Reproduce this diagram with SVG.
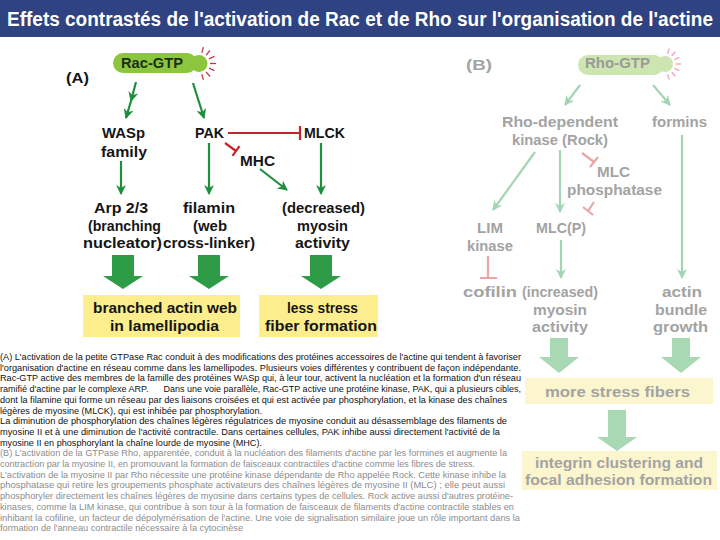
<svg xmlns="http://www.w3.org/2000/svg" width="720" height="540" viewBox="0 0 720 540">
<style>
.t{font-family:"Liberation Sans","Arial",sans-serif;font-weight:bold;text-anchor:middle;font-size:15px}
.ta{fill:#151515}
.tb{fill:#A3A3A3}
.p{font-family:"Liberation Sans","DejaVu Sans",sans-serif;font-size:9.3px}
.pa{fill:#111}
.pb{fill:#8C8C8C}
.arA{stroke:#1F8F3F;stroke-width:2.2;fill:none;marker-end:url(#ahA)}
.arB{stroke:#A3D5B5;stroke-width:2.2;fill:none;marker-end:url(#ahB)}
.inA{stroke:#C4262E;stroke-width:2.2;fill:none}
.inB{stroke:#E9A6A6;stroke-width:2.2;fill:none}
.bigA{fill:#2E9C47}
.bigB{fill:#A8D8B4}
.rayA{stroke:#C0394B;stroke-width:1.3}
.rayB{stroke:#EBA5AE;stroke-width:1.3}
</style>
<defs>
<marker id="ahA" viewBox="0 0 10 10" refX="9" refY="5" markerWidth="10" markerHeight="10" markerUnits="userSpaceOnUse" orient="auto"><path d="M0,0 L10,5 L0,10 L3,5 Z" fill="#1F8F3F"/></marker>
<marker id="ahB" viewBox="0 0 10 10" refX="9" refY="5" markerWidth="10" markerHeight="10" markerUnits="userSpaceOnUse" orient="auto"><path d="M0,0 L10,5 L0,10 L3,5 Z" fill="#A3D5B5"/></marker>
</defs>
<rect width="720" height="540" fill="#fff"/>
<g id="title">
<rect x="0" y="0" width="720" height="37" fill="#2F4281"/>
<text transform="translate(360,26) scale(1,1.15)" font-family="Liberation Sans, sans-serif" font-size="18" font-weight="bold" fill="#fff" text-anchor="middle" textLength="706" lengthAdjust="spacingAndGlyphs">Effets contrastés de l'activation de Rac et de Rho sur l'organisation de l'actine</text>
</g>

<g id="labelA"><text class="t ta" x="77.5" y="83" font-size="16" textLength="23" lengthAdjust="spacingAndGlyphs">(A)</text></g>
<g id="racGTP">
<rect x="113" y="53" width="84" height="20" rx="10" fill="#8CC63F"/>
<circle cx="199" cy="63.5" r="8.5" fill="#8CC63F"/>
<g transform="translate(199,63.5)">
<line class="rayA" x1="11" x2="17" transform="rotate(-75)"/>
<line class="rayA" x1="11" x2="17" transform="rotate(-50)"/>
<line class="rayA" x1="11" x2="17" transform="rotate(-25)"/>
<line class="rayA" x1="11" x2="17"/>
<line class="rayA" x1="11" x2="17" transform="rotate(25)"/>
<line class="rayA" x1="11" x2="17" transform="rotate(50)"/>
<line class="rayA" x1="11" x2="17" transform="rotate(75)"/>
</g>
<text class="t" x="152" y="68" font-size="13" fill="#1d2e1a" textLength="62" lengthAdjust="spacingAndGlyphs">Rac-GTP</text>
</g>
<g id="wasp"><text class="t ta" x="123.5" y="138" textLength="43" lengthAdjust="spacingAndGlyphs">WASp</text><text class="t ta" x="124" y="157" textLength="46" lengthAdjust="spacingAndGlyphs">family</text></g>
<g id="pak"><text class="t ta" x="209.5" y="138" textLength="29" lengthAdjust="spacingAndGlyphs">PAK</text></g>
<g id="mlck"><text class="t ta" x="324.5" y="138" textLength="41" lengthAdjust="spacingAndGlyphs">MLCK</text></g>
<g id="mhc"><text class="t ta" x="257.5" y="166" textLength="35" lengthAdjust="spacingAndGlyphs">MHC</text></g>
<g id="arp"><text class="t ta" x="121" y="213" textLength="54" lengthAdjust="spacingAndGlyphs">Arp 2/3</text><text class="t ta" x="124.5" y="230.5" textLength="73" lengthAdjust="spacingAndGlyphs">(branching</text><text class="t ta" x="122.5" y="248" textLength="79" lengthAdjust="spacingAndGlyphs">nucleator)</text></g>
<g id="filamin"><text class="t ta" x="209" y="213" textLength="52" lengthAdjust="spacingAndGlyphs">filamin</text><text class="t ta" x="210" y="230.5" textLength="34" lengthAdjust="spacingAndGlyphs">(web</text><text class="t ta" x="209" y="248" textLength="92" lengthAdjust="spacingAndGlyphs">cross-linker)</text></g>
<g id="decreased"><text class="t ta" x="323.5" y="213" textLength="83" lengthAdjust="spacingAndGlyphs">(decreased)</text><text class="t ta" x="322.5" y="230.5" textLength="51" lengthAdjust="spacingAndGlyphs">myosin</text><text class="t ta" x="322.5" y="248" textLength="55" lengthAdjust="spacingAndGlyphs">activity</text></g>
<g id="branched"><rect x="83" y="295" width="157" height="42" fill="#FCEE8D"/><text class="t ta" x="165" y="313" font-size="16" textLength="144" lengthAdjust="spacingAndGlyphs">branched actin web</text><text class="t ta" x="164.5" y="331" font-size="16" textLength="109" lengthAdjust="spacingAndGlyphs">in lamellipodia</text></g>
<g id="lessStress"><rect x="259" y="295" width="119" height="42" fill="#FCEE8D"/><text class="t ta" x="322.5" y="313" font-size="16" textLength="71" lengthAdjust="spacingAndGlyphs">less stress</text><text class="t ta" x="321" y="331" font-size="16" textLength="112" lengthAdjust="spacingAndGlyphs">fiber formation</text></g>

<g id="labelB"><text class="t tb" x="479" y="70" font-size="16" textLength="26" lengthAdjust="spacingAndGlyphs">(B)</text></g>
<g id="rhoGTP">
<rect x="578" y="55" width="86" height="20" rx="10" fill="#CDE5B0"/>
<circle cx="665" cy="64" r="8" fill="#CDE5B0"/>
<g transform="translate(665,64)">
<line class="rayB" x1="10.5" x2="16" transform="rotate(-75)"/>
<line class="rayB" x1="10.5" x2="16" transform="rotate(-50)"/>
<line class="rayB" x1="10.5" x2="16" transform="rotate(-25)"/>
<line class="rayB" x1="10.5" x2="16"/>
<line class="rayB" x1="10.5" x2="16" transform="rotate(25)"/>
<line class="rayB" x1="10.5" x2="16" transform="rotate(50)"/>
<line class="rayB" x1="10.5" x2="16" transform="rotate(75)"/>
</g>
<text class="t" x="617.5" y="68" font-size="13" fill="#9A9A9A" textLength="65" lengthAdjust="spacingAndGlyphs">Rho-GTP</text>
</g>
<g id="rock"><text class="t tb" x="560" y="127" textLength="116" lengthAdjust="spacingAndGlyphs">Rho-dependent</text><text class="t tb" x="560" y="145" textLength="96" lengthAdjust="spacingAndGlyphs">kinase (Rock)</text></g>
<g id="formins"><text class="t tb" x="679.5" y="127" textLength="55" lengthAdjust="spacingAndGlyphs">formins</text></g>
<g id="mlcPhosphatase"><text class="t tb" x="613.5" y="177" textLength="33" lengthAdjust="spacingAndGlyphs">MLC</text><text class="t tb" x="614.5" y="195" textLength="95" lengthAdjust="spacingAndGlyphs">phosphatase</text></g>
<g id="limKinase"><text class="t tb" x="490" y="233" textLength="26" lengthAdjust="spacingAndGlyphs">LIM</text><text class="t tb" x="490" y="250.5" textLength="46" lengthAdjust="spacingAndGlyphs">kinase</text></g>
<g id="mlcP"><text class="t tb" x="561" y="233" textLength="50" lengthAdjust="spacingAndGlyphs">MLC(P)</text></g>
<g id="cofilin"><text class="t tb" x="490" y="297" textLength="54" lengthAdjust="spacingAndGlyphs">cofilin</text></g>
<g id="increased"><text class="t tb" x="560" y="297" textLength="76" lengthAdjust="spacingAndGlyphs">(increased)</text><text class="t tb" x="560" y="314.5" textLength="54" lengthAdjust="spacingAndGlyphs">myosin</text><text class="t tb" x="560" y="332" textLength="56" lengthAdjust="spacingAndGlyphs">activity</text></g>
<g id="actinBundle"><text class="t tb" x="682" y="297" textLength="40" lengthAdjust="spacingAndGlyphs">actin</text><text class="t tb" x="681" y="314.5" textLength="52" lengthAdjust="spacingAndGlyphs">bundle</text><text class="t tb" x="680.5" y="332" textLength="55" lengthAdjust="spacingAndGlyphs">growth</text></g>
<g id="moreStress"><rect x="525" y="378" width="188" height="26" fill="#FCF6CF"/><text class="t tb" x="617.5" y="397" font-size="16" textLength="145" lengthAdjust="spacingAndGlyphs">more stress fibers</text></g>
<g id="integrin"><rect x="522" y="451" width="195" height="39" fill="#FCF6CF"/><text class="t tb" x="619" y="467.5" font-size="15" textLength="168" lengthAdjust="spacingAndGlyphs">integrin clustering and</text><text class="t tb" x="618.5" y="485" font-size="15" textLength="187" lengthAdjust="spacingAndGlyphs">focal adhesion formation</text></g>

<g id="connectors">
<line class="arA" x1="136" y1="82" x2="131" y2="101"/>
<line class="arA" x1="131" y1="101" x2="126" y2="118"/>
<line class="arA" x1="193" y1="83" x2="204" y2="118"/>
<line class="arA" x1="121" y1="161" x2="121" y2="194"/>
<line class="arA" x1="209" y1="143" x2="209" y2="194"/>
<line class="arA" x1="321" y1="143" x2="321" y2="194"/>
<line class="arA" x1="260" y1="169" x2="287" y2="190"/>
<path class="inA" d="M228,133 H300 M300,126 V140"/>
<path class="inA" d="M225,143 L236,151 M232.5,155.9 L239.5,146.1"/>
<polygon class="bigA" points="112,255 134,255 134,276 143,276 123,289 103,276 112,276"/>
<polygon class="bigA" points="198,255 220,255 220,276 229,276 209,289 189,276 198,276"/>
<polygon class="bigA" points="310,255 332,255 332,276 341,276 321,289 301,276 310,276"/>

<line class="arB" x1="580" y1="85" x2="565" y2="105"/>
<line class="arB" x1="653" y1="85" x2="670" y2="105"/>
<line class="arB" x1="535" y1="152" x2="493" y2="210"/>
<line class="arB" x1="560" y1="150" x2="560" y2="212"/>
<line class="arB" x1="682" y1="135" x2="682" y2="278"/>
<line class="arB" x1="561" y1="240" x2="561" y2="278"/>
<path class="inB" d="M582,153 L594,162 M590,167 L598,157"/>
<path class="inB" d="M594,202 L588,211 M583,207 L593,215"/>
<path class="inB" d="M488,256 V278 M480,278 H497"/>
<polygon class="bigB" points="550,338 568,338 568,357 579,357 559,373 539,357 550,357"/>
<polygon class="bigB" points="672,338 690,338 690,357 701,357 681,373 661,357 672,357"/>
<polygon class="bigB" points="608,410 626,410 626,437 637,437 617,451 597,437 608,437"/>
</g>

<g id="caption">
<text class="p pa" x="0" y="360" textLength="521" lengthAdjust="spacingAndGlyphs">(A) L'activation de la petite GTPase Rac conduit à des modifications des protéines accessoires de l'actine qui tendent à favoriser</text>
<text class="p pa" x="0" y="370.7" textLength="521" lengthAdjust="spacingAndGlyphs">l'organisation d'actine en réseau comme dans les lamellipodes. Plusieurs voies différentes y contribuent de façon indépendante.</text>
<text class="p pa" x="0" y="381.4" textLength="521" lengthAdjust="spacingAndGlyphs">Rac-GTP active des membres de la famille des protéines WASp qui, à leur tour, activent la nucléation et la formation d'un réseau</text>
<text class="p pa" x="0" y="392.1" textLength="521" lengthAdjust="spacingAndGlyphs" xml:space="preserve">ramifié d'actine par le complexe ARP.      Dans une voie parallèle, Rac-GTP active une protéine kinase, PAK, qui a plusieurs cibles,</text>
<text class="p pa" x="0" y="402.8" textLength="507" lengthAdjust="spacingAndGlyphs">dont la filamine qui forme un réseau par des liaisons croisées et qui est activée par phosphorylation, et la kinase des chaînes</text>
<text class="p pa" x="0" y="413.5" textLength="262" lengthAdjust="spacingAndGlyphs">légères de myosine (MLCK), qui est inhibée par phosphorylation.</text>
<text class="p pa" x="0" y="424.2" textLength="507" lengthAdjust="spacingAndGlyphs">La diminution de phosphorylation des chaînes légères régulatrices de myosine conduit au désassemblage des filaments de</text>
<text class="p pa" x="0" y="434.9" textLength="500" lengthAdjust="spacingAndGlyphs">myosine II et à une diminution de l'activité contractile. Dans certaines cellules, PAK inhibe aussi directement l'activité de la</text>
<text class="p pa" x="0" y="445.6" textLength="262" lengthAdjust="spacingAndGlyphs">myosine II en phosphorylant la chaîne lourde de myosine (MHC).</text>
<text class="p pb" x="0" y="456.3" textLength="507" lengthAdjust="spacingAndGlyphs">(B) L'activation de la GTPase Rho, apparentée, conduit à la nucléation des filaments d'actine par les formines et augmente la</text>
<text class="p pb" x="0" y="467" textLength="475" lengthAdjust="spacingAndGlyphs">contraction par la myosine II, en promouvant la formation de faisceaux contractiles d'actine comme les fibres de stress.</text>
<text class="p pb" x="0" y="477.7" textLength="506" lengthAdjust="spacingAndGlyphs">L'activation de la myosine II par Rho nécessite une protéine kinase dépendante de Rho appelée Rock. Cette kinase inhibe la</text>
<text class="p pb" x="0" y="488.4" textLength="505" lengthAdjust="spacingAndGlyphs">phosphatase qui retire les groupements phosphate activateurs des chaînes légères de myosine II (MLC) ; elle peut aussi</text>
<text class="p pb" x="0" y="499.1" textLength="513" lengthAdjust="spacingAndGlyphs">phosphoryler directement les chaînes légères de myosine dans certains types de cellules. Rock active aussi d'autres protéine-</text>
<text class="p pb" x="0" y="509.8" textLength="514" lengthAdjust="spacingAndGlyphs">kinases, comme la LIM kinase, qui contribue à son tour à la formation de faisceaux de filaments d'actine contractile stables en</text>
<text class="p pb" x="0" y="520.5" textLength="520" lengthAdjust="spacingAndGlyphs">inhibant la cofiline, un facteur de dépolymérisation de l'actine. Une voie de signalisation similaire joue un rôle important dans la</text>
<text class="p pb" x="0" y="531.2" textLength="243" lengthAdjust="spacingAndGlyphs">formation de l'anneau contractile nécessaire à la cytocinèse</text>
</g>
</svg>
